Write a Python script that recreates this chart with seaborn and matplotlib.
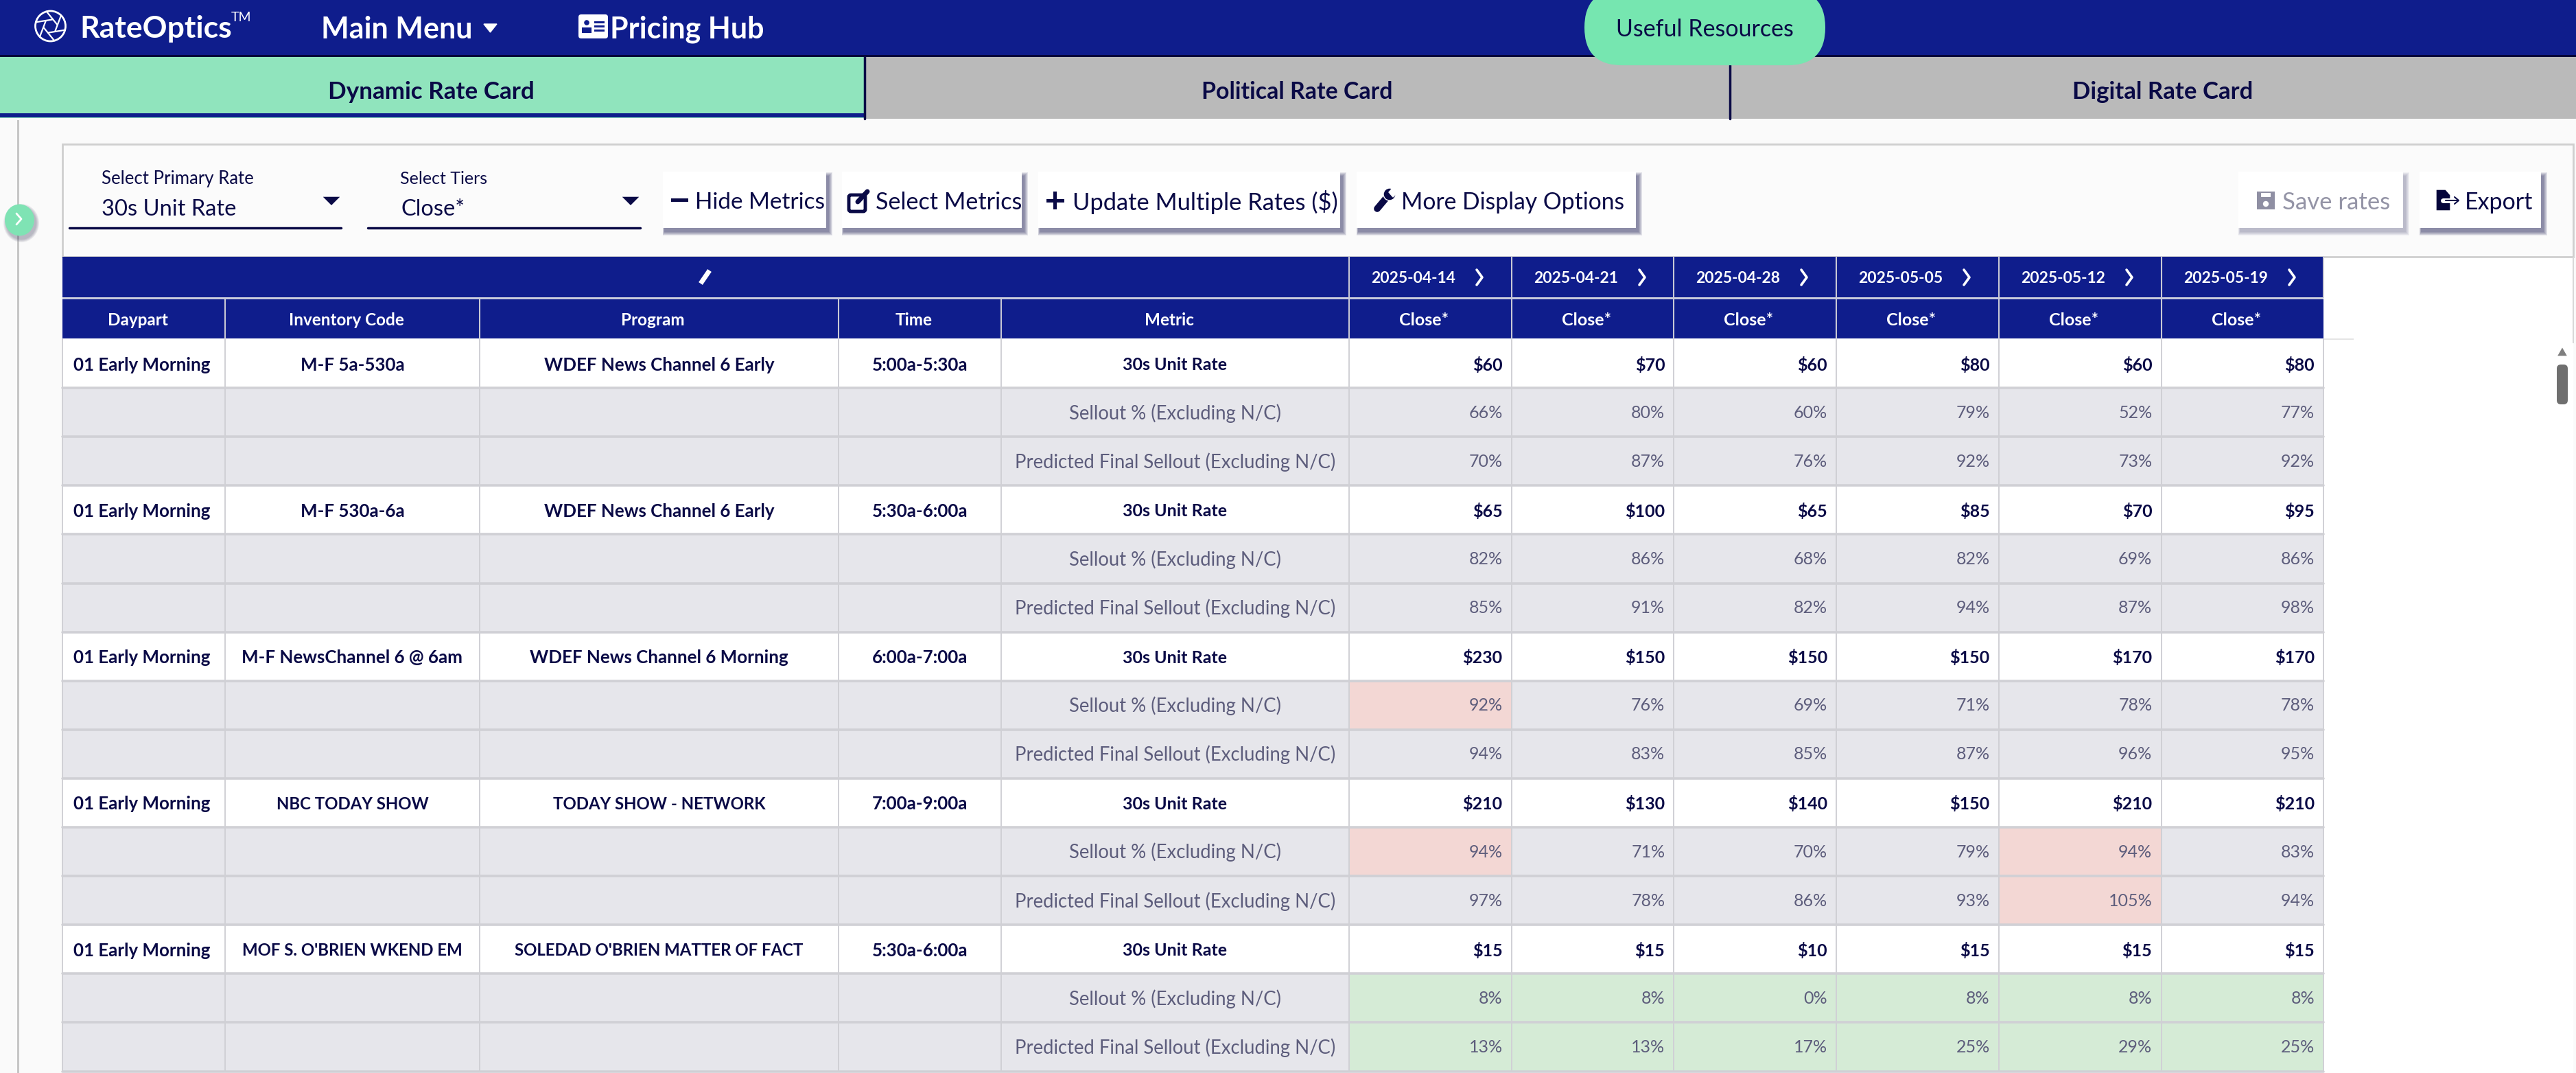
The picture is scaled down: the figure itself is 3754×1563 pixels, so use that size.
import numpy as np
import matplotlib
matplotlib.use("Agg")
import matplotlib.pyplot as plt
from matplotlib.colors import ListedColormap
from matplotlib.patches import Rectangle, Circle, Ellipse, FancyBboxPatch, Polygon
import seaborn as sns

dayparts = ["01 Early Morning"] * 5
inventory_codes = ["M-F 5a-530a", "M-F 530a-6a", "M-F NewsChannel 6 @ 6am", "NBC TODAY SHOW", "MOF S. O'BRIEN WKEND EM"]
programs = ["WDEF News Channel 6 Early", "WDEF News Channel 6 Early", "WDEF News Channel 6 Morning",
            "TODAY SHOW - NETWORK", "SOLEDAD O'BRIEN MATTER OF FACT"]
times = ["5:00a-5:30a", "5:30a-6:00a", "6:00a-7:00a", "7:00a-9:00a", "5:30a-6:00a"]
metrics = ["30s Unit Rate", "Sellout % (Excluding N/C)", "Predicted Final Sellout (Excluding N/C)"]
weeks = ["2025-04-14", "2025-04-21", "2025-04-28", "2025-05-05", "2025-05-12", "2025-05-19"]
left_headers = ["Daypart", "Inventory Code", "Program", "Time", "Metric"]

unit_rate = [[60, 70, 60, 80, 60, 80],
             [65, 100, 65, 85, 70, 95],
             [230, 150, 150, 150, 170, 170],
             [210, 130, 140, 150, 210, 210],
             [15, 15, 10, 15, 15, 15]]
sellout = [[66, 80, 60, 79, 52, 77],
           [82, 86, 68, 82, 69, 86],
           [92, 76, 69, 71, 78, 78],
           [94, 71, 70, 79, 94, 83],
           [8, 8, 0, 8, 8, 8]]
predicted = [[70, 87, 76, 92, 73, 92],
             [85, 91, 82, 94, 87, 98],
             [94, 83, 85, 87, 96, 95],
             [97, 78, 86, 93, 105, 94],
             [13, 13, 17, 25, 29, 25]]
# cell shade per week: 1 grey, 2 red, 3 green
sellout_shade = [[1, 1, 1, 1, 1, 1], [1, 1, 1, 1, 1, 1], [2, 1, 1, 1, 1, 1], [2, 1, 1, 1, 2, 1], [3, 3, 3, 3, 3, 3]]
predicted_shade = [[1, 1, 1, 1, 1, 1], [1, 1, 1, 1, 1, 1], [1, 1, 1, 1, 1, 1], [1, 1, 1, 1, 2, 1], [3, 3, 3, 3, 3, 3]]

W, H = 3755, 1563
BLUE = "#0f1d8c"
NAVY = "#0a0a46"
GREY_TXT = "#5d5d7c"
LINE = "#d0d0d5"
col_edges = [91, 328, 699, 1222, 1459, 1966, 2203, 2439, 2676, 2913, 3150, 3386]
row_top, row_h = 494, 71.1
n_rows = 15

sns.set_theme(style="white")
plt.rcParams["font.family"] = ["Lato", "DejaVu Sans"]
cell_cmap = ListedColormap(["#ffffff", "#e6e6eb", "#f3d7d4", "#d5ebd6"])

fig = plt.figure(figsize=(W / 100, H / 100), dpi=100)
bg = fig.add_axes([0, 0, 1, 1])
bg.set_xlim(0, W)
bg.set_ylim(H, 0)
bg.axis("off")


def rect(ax, x0, y0, x1, y1, color, z=1, **kw):
    ax.add_patch(Rectangle((x0, y0), x1 - x0, y1 - y0, facecolor=color, edgecolor="none", zorder=z, **kw))


def label(ax, x, y, s, size, color=NAVY, weight="normal", ha="center"):
    ax.text(x, y, s, fontsize=size, color=color, fontweight=weight, ha=ha, va="center_baseline", zorder=8)


# page background and nav
rect(bg, 0, 0, W, H, "#fafafa", 0)
rect(bg, 0, 0, W, 80, BLUE)
rect(bg, 0, 80, W, 83, "#05053a")
rect(bg, 0, 83, 1259, 172, "#90e4bd")
rect(bg, 0, 165, 1259, 171, BLUE)
rect(bg, 1259, 83, W, 173, "#bababa")
bg.plot([1260, 1260], [83, 173], color=NAVY, lw=2.5, zorder=2)
bg.plot([2521, 2521], [95, 173], color=NAVY, lw=2.5, zorder=2)
bg.add_patch(FancyBboxPatch((2364, 40), 241, 0.1, boxstyle="round,pad=55,rounding_size=55", facecolor="#76e6b0",
                            edgecolor="none", zorder=3))

# logo
bg.add_patch(Circle((73.5, 38), 22, facecolor="none", edgecolor="white", lw=2, zorder=4))
for a in np.deg2rad([15, 75, 135, 195, 255, 315]):
    bg.plot([73.5 + 22 * np.cos(a), 73.5 + 10 * np.cos(a + 1.6)], [38 + 22 * np.sin(a), 38 + 10 * np.sin(a + 1.6)],
            color="white", lw=1.6, zorder=4)
label(bg, 116, 38, "RateOptics", 32, "white", "bold", "left")
label(bg, 337, 24, "TM", 14, "white", "normal", "left")
label(bg, 468, 39, "Main Menu", 31, "white", "bold", "left")
bg.add_patch(Polygon([[705, 35], [724, 35], [714.5, 47]], facecolor="white", zorder=4))
bg.add_patch(FancyBboxPatch((845, 23), 39, 31, boxstyle="round,pad=2,rounding_size=4", facecolor="white", edgecolor="none", zorder=4))
bg.add_patch(Circle((855, 33), 4.5, facecolor=BLUE, zorder=5))
rect(bg, 848, 40, 862, 48, BLUE, 5)
for yy in [31, 37, 43]:
    rect(bg, 866, yy, 881, yy + 2.5, BLUE, 5)
label(bg, 889, 39, "Pricing Hub", 31, "white", "bold", "left")
label(bg, 2484, 40, "Useful Resources", 24.5, NAVY)
label(bg, 628, 131, "Dynamic Rate Card", 25.2, NAVY, "bold")
label(bg, 1890, 131, "Political Rate Card", 24.4, NAVY, "bold")
label(bg, 3152, 131, "Digital Rate Card", 25, NAVY, "bold")

# sidebar line and toolbar panel
rect(bg, 25.5, 175, 28.5, H, "#c6c6c6", 1)
rect(bg, 91, 374, 3750, H, "#ffffff", 1)
bg.add_patch(Rectangle((91, 210), 3659, 164, facecolor="#fbfbfb", edgecolor="#cfcfcf", lw=2, zorder=1))
rect(bg, 3749, 374, 3751, 500, "#d8d8d8", 1)
for i in range(5):
    bg.add_patch(Ellipse((31, 325), 44 + 2 * i, 48 + 2 * i, facecolor="#3a3a5a", alpha=0.08, zorder=2))
bg.add_patch(Ellipse((28.5, 320.5), 43, 46, facecolor="#7fe3b4", edgecolor="none", zorder=3))
bg.plot([24, 31, 24], [311, 319, 327], color="white", lw=2, zorder=4)

label(bg, 148, 258, "Select Primary Rate", 18.5, NAVY, "normal", "left")
label(bg, 148, 302, "30s Unit Rate", 23.5, NAVY, "normal", "left")
label(bg, 583, 258, "Select Tiers", 18, NAVY, "normal", "left")
label(bg, 585, 302, "Close*", 23.5, NAVY, "normal", "left")
for x0, x1, tri in [(101, 497, 483), (536, 933, 919)]:
    bg.plot([x0, x1], [332, 332], color=NAVY, lw=2.5, zorder=2)
    bg.add_patch(Polygon([[tri - 14, 286], [tri + 14, 286], [tri, 300]], facecolor=NAVY, zorder=3))

buttons = [(966, 1204, "Hide Metrics", 1013, NAVY, 24), (1227, 1489, "Select Metrics", 1276, NAVY, 24.6),
           (1513, 1953, "Update Multiple Rates ($)", 1563, NAVY, 24.8), (1977, 2384, "More Display Options", 2042, NAVY, 24.2),
           (3262, 3502, "Save rates", 3326, "#9494a6", 25), (3526, 3703, "Export", 3592, NAVY, 24.5)]
for x0, x1, text, tx, col, fs in buttons:
    for i in range(6, 0, -1):
        rect(bg, x0 + 3 - 0.5 * i, 250 + 7 - i, x1 + 3 + i, 332 + 5 + i, "#15154f", 2, alpha=0.1 if col == NAVY else 0.05)
    rect(bg, x0, 250, x1, 332, "#ffffff", 3)
    label(bg, tx, 292, text, fs, col, "normal", "left")

# button icons
rect(bg, 978, 289, 1003, 294, NAVY, 4)
rect(bg, 1525, 289.5, 1551, 294.5, NAVY, 4)
rect(bg, 1535.5, 279, 1540.5, 305, NAVY, 4)
bg.add_patch(FancyBboxPatch((1238, 285), 22, 22, boxstyle="round,pad=1,rounding_size=3", facecolor="none", edgecolor=NAVY, lw=3.5, zorder=4))
bg.plot([1250, 1264], [294, 279], color=NAVY, lw=5, zorder=5)
bg.plot([2007, 2023], [304, 285], color=NAVY, lw=7, zorder=4)
bg.add_patch(Circle((2025, 283), 9, facecolor=NAVY, zorder=4))
bg.add_patch(Polygon([[2024, 280], [2032, 271], [2038, 278], [2030, 287]], facecolor="#ffffff", zorder=5))
rect(bg, 3289, 279, 3315, 305, "#8f8fa3", 4)
rect(bg, 3295, 281, 3309, 287, "#ffffff", 5)
bg.add_patch(Circle((3302, 297), 3.5, facecolor="#ffffff", zorder=5))
bg.add_patch(Polygon([[3550, 276], [3564, 276], [3571, 284], [3571, 307], [3550, 307]], facecolor="#05053a", zorder=4))
bg.plot([3560, 3582], [292, 292], color="#ffffff", lw=5, zorder=5)
bg.plot([3564, 3582], [292, 292], color=NAVY, lw=1.5, zorder=6)
bg.plot([3577, 3583, 3577], [287, 292, 297], color=NAVY, lw=1.5, zorder=6)

# table header
rect(bg, 91, 374, 3386, 433, BLUE, 2)
rect(bg, 91, 433, 3386, 436, "#c9cbdc", 2)
rect(bg, 91, 436, 3386, 493, BLUE, 2)
rect(bg, 3386, 493, 3430, 495, "#e4e4e4", 2)
bg.plot([1021, 1034], [413, 394], color="white", lw=5, zorder=4, solid_capstyle="butt")
for x in col_edges[5:]:
    bg.plot([x, x], [374, 433], color="#c8c8d4", lw=1.5, zorder=3)
for x in col_edges[1:-1]:
    bg.plot([x, x], [436, 493], color="#c8c8d4", lw=1.5, zorder=3)
for i, head in enumerate(left_headers):
    label(bg, (col_edges[i] + col_edges[i + 1]) / 2 - 9, 465, head, 17.5, "white", "bold")
for i, wk in enumerate(weeks):
    x0 = col_edges[5 + i]
    label(bg, x0 + 94, 404, wk, 16.5, "white", "bold")
    bg.plot([x0 + 186, x0 + 194, x0 + 186], [393, 404, 415], color="white", lw=2.6, zorder=4)
    label(bg, x0 + 109, 465, "Close*", 18, "white", "bold")

# table body
n_group = len(dayparts)
row_kind = np.array([k for _ in range(n_group) for k in (0, 1, 1)])
left_text = [dayparts, inventory_codes, programs, times]
table_bottom = row_top + row_h * n_rows


def table_axes(x0, x1):
    return fig.add_axes([x0 / W, 1 - table_bottom / H, (x1 - x0) / W, (table_bottom - row_top) / H], zorder=2)


for c in range(5):
    ax = table_axes(col_edges[c], col_edges[c + 1])
    sns.heatmap(row_kind[:, None], ax=ax, cmap=cell_cmap, vmin=-0.5, vmax=3.5, cbar=False,
                xticklabels=False, yticklabels=False)
    for g in range(n_group):
        if c < 4:
            ha, xpos = ("left", 16 / 237) if c == 0 else ("center", 0.5)
            txt = left_text[c][g]
            # all-caps names run wide in this font
            label(ax, xpos, g * 3 + 0.5, txt, 17.3 if txt.isupper() else 18.6, NAVY, "bold", ha)
    if c == 4:
        for r, k in enumerate(row_kind):
            name = metrics[r % 3]
            if k == 0:
                label(ax, 0.5, r + 0.5, name, 18, NAVY, "bold")
            else:
                label(ax, 0.5, r + 0.48, name, 19.8, GREY_TXT)

shade = np.array([[0] * 6 if i % 3 == 0 else (sellout_shade[i // 3] if i % 3 == 1 else predicted_shade[i // 3])
                  for i in range(n_rows)])
val_ax = table_axes(col_edges[5], col_edges[-1])
sns.heatmap(shade, ax=val_ax, cmap=cell_cmap, vmin=-0.5, vmax=3.5, cbar=False, xticklabels=False, yticklabels=False)
for g in range(n_group):
    for w in range(len(weeks)):
        label(val_ax, w + 0.945, g * 3 + 0.5, f"${unit_rate[g][w]}", 18, NAVY, "bold", "right")
        label(val_ax, w + 0.945, g * 3 + 1.48, f"{sellout[g][w]}%", 18, GREY_TXT, "normal", "right")
        label(val_ax, w + 0.945, g * 3 + 2.48, f"{predicted[g][w]}%", 18, GREY_TXT, "normal", "right")

# grid lines over the cells
top = fig.add_axes([0, 0, 1, 1], zorder=3)
top.set_xlim(0, W)
top.set_ylim(H, 0)
top.axis("off")
top.patch.set_visible(False)
for x in col_edges:
    top.plot([x, x], [row_top, table_bottom], color=LINE, lw=1.4, zorder=1)
for r in range(1, n_rows + 1):
    y = row_top + r * row_h
    top.plot([91, 3386], [y, y], color=LINE, lw=2.6, zorder=1)

# scrollbar
rect(top, 3722, 495, 3748, H, "#ffffff", 2)
top.add_patch(Polygon([[3726, 519], [3742, 519], [3734, 505]], facecolor="#7f7f7f", zorder=3))
top.add_patch(FancyBboxPatch((3729, 534), 10, 52, boxstyle="round,pad=3,rounding_size=6", facecolor="#6f6f6f", edgecolor="none", zorder=3))

fig.savefig("out.png", dpi=100)
plt.close(fig)
